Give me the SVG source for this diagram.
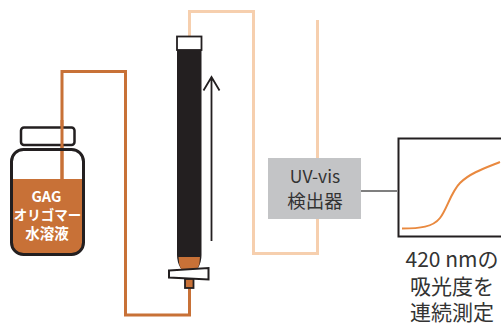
<svg xmlns="http://www.w3.org/2000/svg" width="501" height="323" viewBox="0 0 501 323">
<style>
.tube{fill:none;stroke-width:3}
.o{stroke:#c87137}
.p{stroke:#f6cfae}
.jp{font-family:"Noto Sans CJK JP","Noto Sans",sans-serif;text-anchor:middle}
.lab{font-size:21px;fill:#333}
.det{font-size:18.500px;fill:#333}
.bottle{font-size:14.500px;font-weight:700;fill:#fff}
</style>
<rect width="501" height="323" fill="#fff"/>
<g id="connectors">
<path class="tube p" d="M189.500 37V11.500H253.500V253.500H317.500V218"/>
<path class="tube p" d="M317.500 20V158"/>
<path class="tube o" d="M62 180V71.500H125.500V315H189.500V288"/>
<path d="M361 191H397" stroke="#555" stroke-width="1.300" fill="none"/>
<path d="M211.500 241V78M203.500 90.500L211.500 77L219.500 90.500" fill="none" stroke="#231f20" stroke-width="1.800"/>
</g>
<g id="bottle">
<rect x="21" y="127.500" width="53.500" height="17.500" rx="3" fill="#fff" stroke="#231f20" stroke-width="2.500"/>
<path d="M12 179H83V244Q83 254 72 254H23Q12 254 12 244Z" fill="#c87137"/>
<path d="M62 120V179" class="tube o"/>
<rect x="11.500" y="149.500" width="72" height="105" rx="12" fill="none" stroke="#231f20" stroke-width="3"/>
<text class="jp bottle" x="46.500" y="202">GAG</text>
<text class="jp bottle" x="47.500" y="220" style="font-size:13.500px">オリゴマー</text>
<text class="jp bottle" x="47" y="239">水溶液</text>
</g>
<g id="column">
<rect x="177" y="36.500" width="24.500" height="13.500" fill="#fff" stroke="#231f20" stroke-width="1.800"/>
<path d="M177 50H201.500V255Q201.500 262 198 268H180.500Q177 262 177 255Z" fill="#231f20"/>
<path d="M178.500 257H200Q200 264 197.500 269H181Q178.500 264 178.500 257Z" fill="#c87137"/>
<path d="M169 270.500L208.500 268V279.500L169 277.500Z" fill="#fff" stroke="#231f20" stroke-width="2"/>
<rect x="185" y="279" width="8.500" height="9" fill="#c87137" stroke="#231f20" stroke-width="1.800"/>
</g>
<g id="detector">
<rect x="268" y="158" width="93" height="61" fill="#c3c4c6"/>
<text class="jp det" x="315" y="183" style="font-size:17.500px">UV-vis</text>
<text class="jp det" x="315" y="208">検出器</text>
</g>
<g id="plot">
<rect x="398.500" y="138.500" width="110" height="98" fill="#fff" stroke="#231f20" stroke-width="2"/>
<path d="M402 228.500C420 228.500 433 227 440 218C447 209 451 192 460 183C470 173 485 168 500 162" fill="none" stroke="#e9893f" stroke-width="2"/>
<text class="jp lab" x="452" y="267">420 nmの</text>
<text class="jp lab" x="452" y="294">吸光度を</text>
<text class="jp lab" x="452" y="320">連続測定</text>
</g>
</svg>
